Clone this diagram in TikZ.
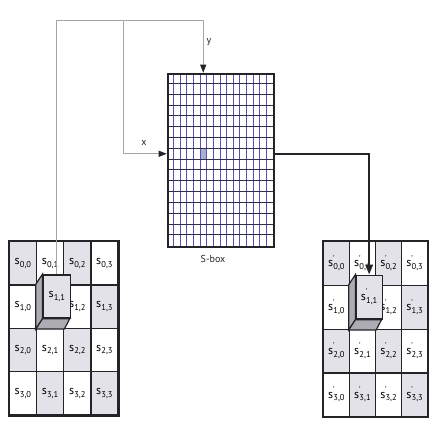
\documentclass[tikz,border=0pt]{standalone}
\usepackage{fontspec}
\setmainfont{PT Sans}
\usetikzlibrary{arrows.meta}

\definecolor{gridv}{RGB}{90,80,180}
\definecolor{gridh}{RGB}{45,45,80}
\definecolor{wire}{RGB}{165,165,165}
\definecolor{cellfill}{RGB}{226,226,232}
\definecolor{sidefill}{RGB}{172,172,178}
\definecolor{hilite}{RGB}{165,175,210}
\definecolor{ink}{RGB}{35,35,40}

% state labels: s with a subscript, and s' with the prime stacked over the subscript
\newcommand\stlab[1]{s\kern0.2pt\raisebox{-2.6pt}{\fontsize{8.5}{9}\selectfont#1}}
\newcommand\stlabp[1]{s\kern0.2pt\raisebox{-2.6pt}{\fontsize{8.5}{7.2}\selectfont
  \begin{tabular}[b]{@{}l@{}}\kern-0.6pt\textquotesingle\\#1\end{tabular}}}

\tikzset{
  cellbox/.style={draw=ink, line width=1.4pt, inner sep=0pt, font=\fontsize{12}{13}\selectfont},
  facebox/.style={draw=ink, line width=1.4pt, fill=cellfill, inner sep=0pt, font=\fontsize{12}{13}\selectfont},
  sidebox/.style={draw=ink, line width=1.2pt, fill=sidefill},
  wireline/.style={draw=wire, line width=1pt},
  outline/.style={draw=ink, line width=1.9pt},
  lab/.style={inner sep=0pt, font=\fontsize{10}{11}\selectfont, text=ink},
  tip/.style={-{Triangle[length=#1pt,width=0.75*#1pt,color=ink,fill=ink]}}
}

\begin{document}
\begin{tikzpicture}[x=1pt,y=-1pt]
\useasboundingbox (0,0) rectangle (435,432);

% ---------- S-box: 16 x 16 lookup table ----------
\def\sbx{166.7}\def\sby{72.7}\def\sbw{6.644}\def\sbh{10.81}
\fill[hilite] (\sbx+5*\sbw,\sby+7*\sbh) rectangle (\sbx+6*\sbw,\sby+8*\sbh);
\foreach \i in {1,...,15}
  \draw[gridv, line width=0.7pt] (\sbx+\i*\sbw,\sby) -- (\sbx+\i*\sbw,\sby+16*\sbh);
\foreach \i in {1,...,15}
  \draw[gridh, line width=1pt] (\sbx,\sby+\i*\sbh) -- (\sbx+16*\sbw,\sby+\i*\sbh);
\node[outline, minimum width=106.3pt, minimum height=173pt, inner sep=0pt, anchor=north west]
  (sbox) at (\sbx,\sby) {};
\node[lab] (sboxlab) at (213,259) {S-box};

% lookup points on the S-box edges (row 7, column 5)
\coordinate (yin) at (\sbx+5.5*\sbw,\sby);
\coordinate (xin) at (\sbx,\sby+7.5*\sbh);
\coordinate (xout) at (\sbx+16*\sbw,\sby+7.5*\sbh);

% ---------- input state (left) ----------
\def\lx{9.3}\def\ly{241.7}\def\lw{27.17}\def\lh{43.33}
\foreach \r in {0,...,3}
  \foreach \c in {0,...,3}{
    \pgfmathparse{int(mod(\r+\c,2))}
    \ifnum\pgfmathresult=0 \def\fc{cellfill}\else\def\fc{white}\fi
    \node[cellbox, fill=\fc, minimum width=\lw pt, minimum height=\lh pt]
      (L\r\c) at (\lx+\lw*\c+\lw/2,\ly+\lh*\r+\lh/2)
      {\ifnum\r\c=11 \else\stlab{\r,\c}\fi};
  }
\draw[outline] (L00.north west) rectangle (L33.south east);

% ---------- output state (right) ----------
\def\rx{323.3}\def\ry{241.7}\def\rw{26.1}\def\rh{43.75}
\foreach \r in {0,...,3}
  \foreach \c in {0,...,3}{
    \pgfmathparse{int(mod(\r+\c,2))}
    \ifnum\pgfmathresult=0 \def\fc{cellfill}\else\def\fc{white}\fi
    \node[cellbox, fill=\fc, minimum width=\rw pt, minimum height=\rh pt]
      (R\r\c) at (\rx+\rw*\c+\rw/2,\ry+\rh*\r+\rh/2)
      {\ifnum\r\c=11 \else\stlabp{\r,\c}\fi};
  }
\draw[outline] (R00.north west) rectangle (R33.south east);

% ---------- lifted byte s(1,1) on each state ----------
\coordinate (fL) at ([shift={(6.7,-10.2)}]L11.south west);
\draw[sidebox] (L11.north west) -- ++(6.7,-10.2) -- (fL) -- (L11.south west) -- cycle;
\draw[sidebox] (L11.south west) -- (fL) -- ++(\lw,0) -- (L11.south east) -- cycle;
\node[facebox, minimum width=\lw pt, minimum height=\lh pt, anchor=south west]
  (cubeL) at (fL) {\raisebox{4pt}{\stlab{1,1}}};

\coordinate (fR) at ([shift={(6.7,-10.2)}]R11.south west);
\draw[sidebox] (R11.north west) -- ++(6.7,-10.2) -- (fR) -- (R11.south west) -- cycle;
\draw[sidebox] (R11.south west) -- (fR) -- ++(\rw,0) -- (R11.south east) -- cycle;
\node[facebox, minimum width=\rw pt, minimum height=\rh pt, anchor=south west]
  (cubeR) at (fR) {\raisebox{4pt}{\stlabp{1,1}}};

% ---------- connectors ----------
\coordinate (topbus) at (0,20.7);
\coordinate (xbranch) at (123,20.7);
\draw[wireline, tip=8]
  (cubeL.north) |- (yin |- topbus) -- (yin);
\draw[wireline, tip=8]
  (xbranch) |- (xin);
\node[lab] (xlab) at (144,143) {x};
\node[lab] (ylab) at (209,42) {y};

\draw[ink, line width=2pt, tip=10]
  (xout) -| (cubeR.north);

\end{tikzpicture}
\end{document}
